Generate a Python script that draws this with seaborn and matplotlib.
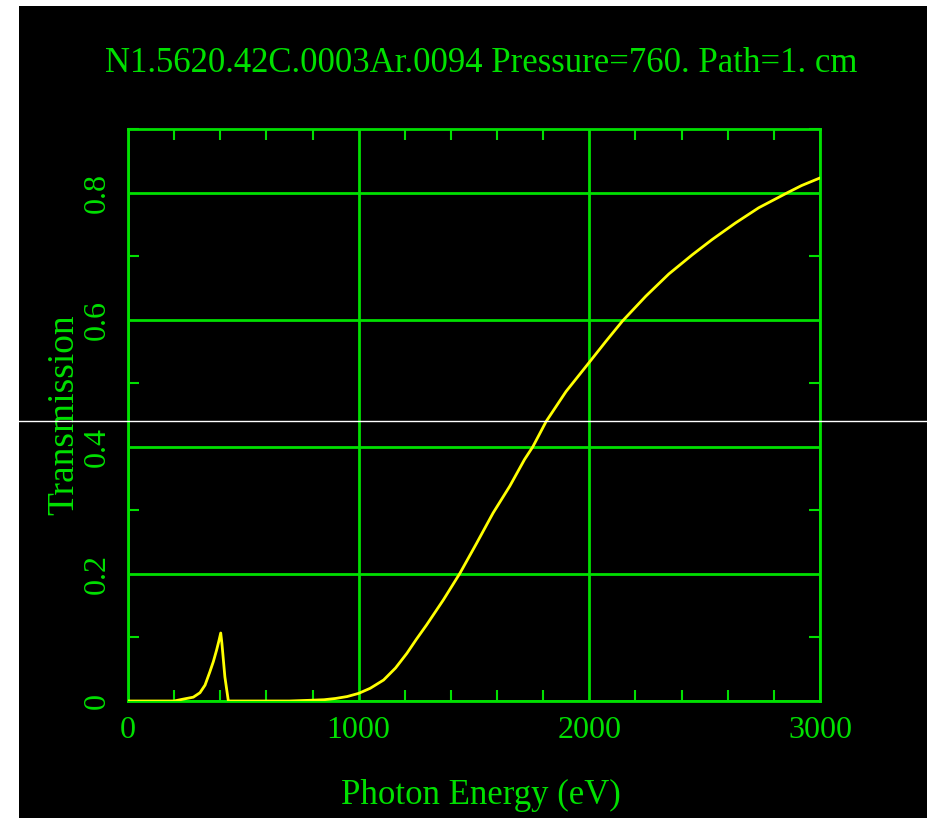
import numpy as np
import pandas as pd
import matplotlib
matplotlib.use("Agg")
import matplotlib.pyplot as plt
from matplotlib.lines import Line2D
from matplotlib.patches import Rectangle
from matplotlib.ticker import MultipleLocator
import seaborn as sns

# Transmission
energy = [0, 100, 200, 240, 283, 312, 334, 355, 370, 384, 393, 402,
          407, 420, 435, 500, 600, 700, 780, 850, 900, 950, 1000,
          1050, 1108, 1160, 1209, 1250, 1295, 1367, 1439, 1511, 1583, 1655,
          1719, 1755, 1813, 1899, 2000, 2072, 2144, 2245, 2345, 2446, 2532,
          2633, 2734, 2860, 2920, 3000]
transmission = [0, 0, 0, 0.003, 0.006, 0.013, 0.025, 0.046, 0.062, 0.080, 0.093, 0.107,
                0.091, 0.038, 0, 0, 0, 0, 0.001, 0.002, 0.004, 0.007, 0.012,
                0.020, 0.033, 0.052, 0.075, 0.097, 0.12, 0.159, 0.201, 0.248, 0.296, 0.338,
                0.38, 0.40, 0.44, 0.487, 0.533, 0.566, 0.598, 0.637, 0.672, 0.702, 0.726,
                0.752, 0.776, 0.80, 0.811, 0.823]

title = "N1.5620.42C.0003Ar.0094 Pressure=760. Path=1. cm"
xticks = [0, 1000, 2000, 3000]
yticks = [0, 0.2, 0.4, 0.6, 0.8]
ytick_labels = ["0", "0.2", "0.4", "0.6", "0.8"]

df = pd.DataFrame({"energy": energy, "transmission": transmission})

green = "#00e000"
yellow = "#ffff00"

sns.set_style("ticks")
plt.rcParams["font.family"] = ["Liberation Serif", "DejaVu Serif"]

fig = plt.figure(figsize=(9.27, 8.18), dpi=100, facecolor="white")
# black canvas with a thin white margin left and top
fig.add_artist(Rectangle((19 / 927, 0), 1 - 19 / 927, 1 - 6 / 818,
                         transform=fig.transFigure, facecolor="black",
                         edgecolor="none", zorder=-10))

ax = fig.add_axes([128 / 927, 1 - 701 / 818, 692 / 927, 572 / 818])
ax.set_facecolor("black")

sns.lineplot(data=df, x="energy", y="transmission", ax=ax, color=yellow,
             linewidth=2, zorder=5)

ax.set_xlim(0, 3000)
ax.set_ylim(0, 0.9)
ax.set_xticks(xticks)
ax.set_xticklabels([str(t) for t in xticks])
ax.set_yticks(yticks)
ax.set_yticklabels(ytick_labels, rotation=90, va="center")
ax.xaxis.set_minor_locator(MultipleLocator(200))
ax.yaxis.set_minor_locator(MultipleLocator(0.1))

ax.tick_params(which="both", direction="in", colors=green, top=True, right=True,
               width=1.5, labelsize=23, labelcolor=green)
ax.tick_params(which="major", length=0)
ax.tick_params(axis="x", which="major", pad=11)
ax.tick_params(axis="y", which="major", pad=12)
ax.tick_params(which="minor", length=8)

ax.grid(True, which="major", color=green, linewidth=2)
for s in ax.spines.values():
    s.set_color(green)
    s.set_linewidth(2)

ax.set_xlabel("Photon Energy (eV)", color=green, fontsize=25, labelpad=24)
ax.set_ylabel("Transmission", color=green, fontsize=27, labelpad=1)
ax.set_title(title, color=green, fontsize=25, pad=41)
# both sit a little right of the axes centre in the reference
ax.xaxis.label.set_x(0.5 + 7 / 692)
ax.title.set_x(0.5 + 7 / 692)

# stray white line across the screenshot
fig.add_artist(Line2D([0, 1], [1 - 421 / 818, 1 - 421 / 818],
                      transform=fig.transFigure, color="white", linewidth=1,
                      zorder=20))

fig.savefig("out.png", dpi=100, facecolor=fig.get_facecolor())
